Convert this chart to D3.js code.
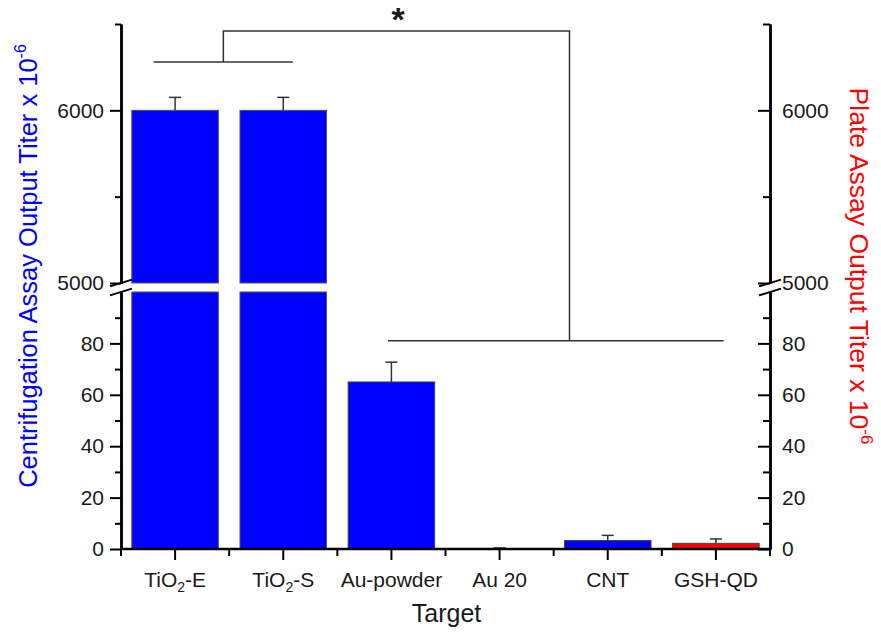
<!DOCTYPE html>
<html>
<head>
<meta charset="utf-8">
<script src="https://cdn.jsdelivr.net/npm/d3@7/dist/d3.min.js"></script>
<style>
  body { margin: 0; background: #fff; }
  svg { font-family: "Liberation Sans", Arial, sans-serif; }
</style>
</head>
<body>
<svg id="chart" width="881" height="634"></svg>
<script>
const categories = ["TiO2-E", "TiO2-S", "Au-powder", "Au 20", "CNT", "GSH-QD"];
const values = [6000, 6000, 65, 0.1, 3.3, 2.2];
const errors = [75, 75, 7.7, 0.3, 2.0, 1.7];
const assay = ["centrifugation", "centrifugation", "centrifugation", "centrifugation", "centrifugation", "plate"];

const lowerTicks = [0, 20, 40, 60, 80];
const lowerMinor = [10, 30, 50, 70, 90];
const upperTicks = [5000, 6000];
const upperMinor = [5500, 6500];

const svg = d3.select("#chart");
const left = 121, right = 770, bottom = 549;

const x = d3.scaleBand().domain(categories).range([left, right])
    .paddingInner(0.2).paddingOuter(0.1);
// broken y axis: two linear segments
const yL = d3.scaleLinear().domain([0, 100]).range([bottom, 292]);
const yU = d3.scaleLinear().domain([5000, 6500]).range([283, 24]);
const yOf = v => v > 100 ? yU(v) : yL(v);

const color = { centrifugation: "#0000ff", plate: "#ff0000" };

// bars
const bars = svg.append("g");
categories.forEach((c, i) => {
    const v = values[i];
    const fill = color[assay[i]];
    if (v > 100) {
        bars.append("rect")
            .attr("x", x(c)).attr("width", x.bandwidth())
            .attr("y", yU(v)).attr("height", yU(5000) - yU(v))
            .attr("fill", fill).attr("stroke", "#555").attr("stroke-width", 1);
        bars.append("rect")
            .attr("x", x(c)).attr("width", x.bandwidth())
            .attr("y", yL(100)).attr("height", yL(0) - yL(100))
            .attr("fill", fill).attr("stroke", "#555").attr("stroke-width", 1);
    } else {
        bars.append("rect")
            .attr("x", x(c)).attr("width", x.bandwidth())
            .attr("y", yL(v)).attr("height", yL(0) - yL(v))
            .attr("fill", fill).attr("stroke", "#444").attr("stroke-width", 1);
    }
    // error bar, upper side only
    const cx = x(c) + x.bandwidth() / 2;
    const top = yOf(v + errors[i]);
    bars.append("line").attr("x1", cx).attr("x2", cx)
        .attr("y1", yOf(v)).attr("y2", top)
        .attr("stroke", "#333").attr("stroke-width", 1.5);
    bars.append("line").attr("x1", cx - 6).attr("x2", cx + 6)
        .attr("y1", top).attr("y2", top)
        .attr("stroke", "#333").attr("stroke-width", 1.5);
});

function styleAxis(g, fontSize) {
    g.attr("font-family", null);
    g.select(".domain").attr("stroke", "#000").attr("stroke-width", 2.5);
    g.selectAll(".tick line").attr("stroke", "#000").attr("stroke-width", 2);
    g.selectAll(".tick text").attr("fill", "#1a1a1a").style("font-size", fontSize + "px");
}

const fmt = d3.format("d");

// left and right axes, one pair per segment
[[yL, lowerTicks, lowerMinor], [yU, upperTicks, upperMinor]].forEach(([sc, major, minor]) => {
    svg.append("g").attr("transform", `translate(${left},0)`)
        .call(d3.axisLeft(sc).tickValues(minor).tickSize(6).tickSizeOuter(0).tickFormat(""))
        .call(g => styleAxis(g, 21));
    svg.append("g").attr("transform", `translate(${left},0)`)
        .call(d3.axisLeft(sc).tickValues(major).tickSize(11).tickSizeOuter(0).tickPadding(6).tickFormat(fmt))
        .call(g => styleAxis(g, 21));
    // right axis, ticks inward
    svg.append("g").attr("transform", `translate(${right},0)`)
        .call(d3.axisRight(sc).tickValues(minor).tickSize(-7).tickSizeOuter(0).tickFormat(""))
        .call(g => styleAxis(g, 21));
    svg.append("g").attr("transform", `translate(${right},0)`)
        .call(d3.axisRight(sc).tickValues(major).tickSize(-12).tickSizeOuter(0).tickPadding(12).tickFormat(fmt))
        .call(g => styleAxis(g, 21));
});

// break marks
[left, right].forEach(ax => {
    [yU(5000), yL(100)].forEach(yy => {
        svg.append("line")
            .attr("x1", ax - 11).attr("y1", yy + 3.4)
            .attr("x2", ax + 11).attr("y2", yy - 3.4)
            .attr("stroke", "#000").attr("stroke-width", 2);
    });
});

// x axis
const xAxis = svg.append("g").attr("transform", `translate(0,${bottom})`)
    .call(d3.axisBottom(x).tickSize(11).tickSizeOuter(0).tickPadding(12))
    .call(g => styleAxis(g, 21));
xAxis.select(".domain").attr("d", `M${left},0H${right}`);
xAxis.selectAll(".tick text").each(function (d) {
    const t = d3.select(this).text(null);
    const m = d.match(/^(TiO)(2)(.*)$/);
    if (m) {
        t.append("tspan").text(m[1]);
        t.append("tspan").text(m[2]).style("font-size", "14px").attr("dy", "5");
        t.append("tspan").text(m[3]).attr("dy", "-5");
    } else {
        t.text(d);
    }
});
// minor ticks at band boundaries
const bounds = categories.map(c => x(c) - x.step() * x.paddingInner() / 2).concat([right]);
bounds[0] = left;
xAxis.selectAll(".minor").data(bounds).join("line")
    .attr("x1", d => d).attr("x2", d => d).attr("y1", 0).attr("y2", 7)
    .attr("stroke", "#000").attr("stroke-width", 2);

// axis titles
svg.append("text").attr("transform", "translate(37,266) rotate(-90)")
    .attr("text-anchor", "middle").attr("fill", "#0000ff").style("font-size", "25.5px")
    .call(t => {
        t.append("tspan").text("Centrifugation Assay Output Titer x 10");
        t.append("tspan").text("-6").style("font-size", "16px").attr("dy", "-11");
    });
svg.append("text").attr("transform", "translate(850,266) rotate(90)")
    .attr("text-anchor", "middle").attr("fill", "#ff0000").style("font-size", "26.5px")
    .call(t => {
        t.append("tspan").text("Plate Assay Output Titer x 10");
        t.append("tspan").text("-6").style("font-size", "17px").attr("dy", "-11");
    });
svg.append("text").attr("x", (left + right) / 2 + 1).attr("y", 622)
    .attr("text-anchor", "middle").attr("fill", "#1a1a1a").style("font-size", "25px")
    .text("Target");

// significance brackets
const bw = x.bandwidth();
const b1 = { x1: x("TiO2-E") + 0.25 * bw, x2: x("TiO2-S") + 0.61 * bw, y: yU(6280) };
const b2 = { x1: x("Au-powder") + 0.46 * bw, x2: x("GSH-QD") + 0.59 * bw, y: yL(81) };
const joinL = x("TiO2-E") + bw + 5, joinR = x("CNT") + 5, topY = yU(6460);
const br = svg.append("g").attr("fill", "none").attr("stroke", "#333").attr("stroke-width", 1.5);
br.append("path").attr("d", `M${b1.x1},${b1.y}H${b1.x2}`);
br.append("path").attr("d", `M${b2.x1},${b2.y}H${b2.x2}`);
br.append("path").attr("d", `M${joinL},${b1.y}V${topY}H${joinR}V${b2.y}`);
svg.append("text").attr("x", 398).attr("y", 31).attr("text-anchor", "middle")
    .style("font-size", "34px").style("font-weight", "bold").attr("fill", "#1a1a1a").text("*");
</script>
</body>
</html>
